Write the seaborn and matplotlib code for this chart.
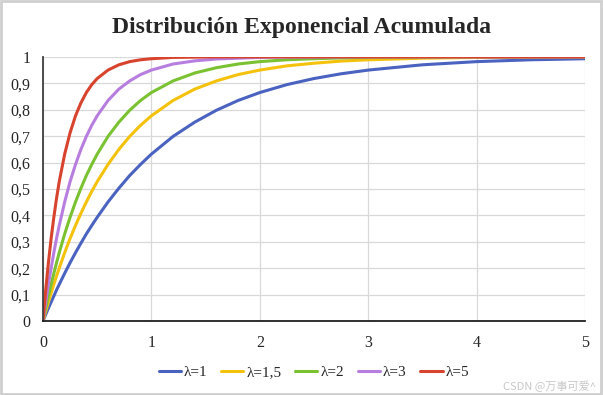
import numpy as np
import pandas as pd
import seaborn as sns
import matplotlib.pyplot as plt
from matplotlib.patches import Rectangle

# values
x = [0, .025, .05, .075, .1, .125, .15, .2, .25, .3, .35, .4, .45, .5, .6, .7, .8, .9,
     1.0, 1.2, 1.4, 1.6, 1.8, 2.0, 2.25, 2.5, 2.75, 3.0, 3.5, 4.0, 4.5, 5.0]
lam_1 = [0, .025, .049, .072, .095, .118, .139, .181, .221, .259, .295, .330, .362, .393,
         .451, .503, .551, .593, .632, .699, .753, .798, .835, .865, .895, .918, .936,
         .950, .970, .982, .989, .993]
lam_15 = [0, .037, .072, .106, .139, .171, .201, .259, .313, .362, .408, .451, .491, .528,
          .593, .650, .699, .741, .777, .835, .878, .909, .933, .950, .966, .976, .984,
          .989, .995, .998, .999, 1]
lam_2 = [0, .049, .095, .139, .181, .221, .259, .330, .393, .451, .503, .551, .593, .632,
         .699, .753, .798, .835, .865, .909, .939, .959, .973, .982, .989, .993, .996,
         .998, .999, 1, 1, 1]
lam_3 = [0, .072, .139, .201, .259, .313, .362, .451, .528, .593, .650, .699, .741, .777,
         .835, .878, .909, .933, .950, .973, .985, .992, .995, .998, .999, .999, 1,
         1, 1, 1, 1, 1]
lam_5 = [0, .118, .221, .313, .393, .465, .528, .632, .713, .777, .826, .865, .895, .918,
         .950, .970, .982, .989, .993, .998, .999, 1, 1, 1, 1, 1, 1,
         1, 1, 1, 1, 1]
labels = ["λ=1", "λ=1,5", "λ=2", "λ=3", "λ=5"]
colors = ["#4A62C0", "#F4C20D", "#7AC231", "#B77EE0", "#D8432E"]

df = pd.concat([pd.DataFrame({"x": x, "y": v, "serie": lab})
                for v, lab in zip([lam_1, lam_15, lam_2, lam_3, lam_5], labels)])

sns.set_style("white")
plt.rcParams['font.family'] = ['Liberation Serif', 'DejaVu Serif']

fig = plt.figure(figsize=(6.03, 3.95), dpi=100)
ax = fig.add_axes([0.0713, 0.187, 0.8987, 0.669])
sns.lineplot(data=df, x="x", y="y", hue="serie", palette=colors,
             linewidth=2.2, ax=ax, legend=True)

ax.set_xlim(0, 5)
ax.set_ylim(0, 1)
ax.set_xticks(range(6))
yt = np.arange(0, 11) / 10
ax.set_yticks(yt)
ax.set_yticklabels(["0" if v == 0 else ("1" if v == 1 else f"{v:.1f}".replace(".", ",")) for v in yt])
ax.grid(True, color="#d9d9d9", linewidth=0.9)
ax.set_axisbelow(True)
for s in ["top", "right"]:
    ax.spines[s].set_visible(False)
ax.spines["left"].set_color("#404040")
ax.spines["bottom"].set_color("#202020")
ax.spines["left"].set_linewidth(1.3)
ax.spines["bottom"].set_linewidth(1.3)
ax.tick_params(length=0, labelsize=11.5, pad=9)
ax.tick_params(axis="x", pad=10)
ax.set_xlabel("")
ax.set_ylabel("")

h, l = ax.get_legend_handles_labels()
ax.legend(h, l, loc="center", bbox_to_anchor=(0.5, -0.193), ncol=5, frameon=False,
          fontsize=11, handlelength=1.45, handletextpad=0.2, columnspacing=0.9)

fig.suptitle("Distribución Exponencial Acumulada", y=0.957, fontsize=17, fontweight="bold")
fig.text(0.988, 0.008, "CSDN @万事可爱^", ha="right", va="bottom", fontsize=8,
         color="#c8c8c8", family=["Noto Sans CJK SC", "DejaVu Sans"])
fig.add_artist(Rectangle((0.002, 0.003), 0.995, 0.994, transform=fig.transFigure,
                         fill=False, edgecolor="#cfcfcf", linewidth=2))

fig.savefig("out.png", dpi=100)
